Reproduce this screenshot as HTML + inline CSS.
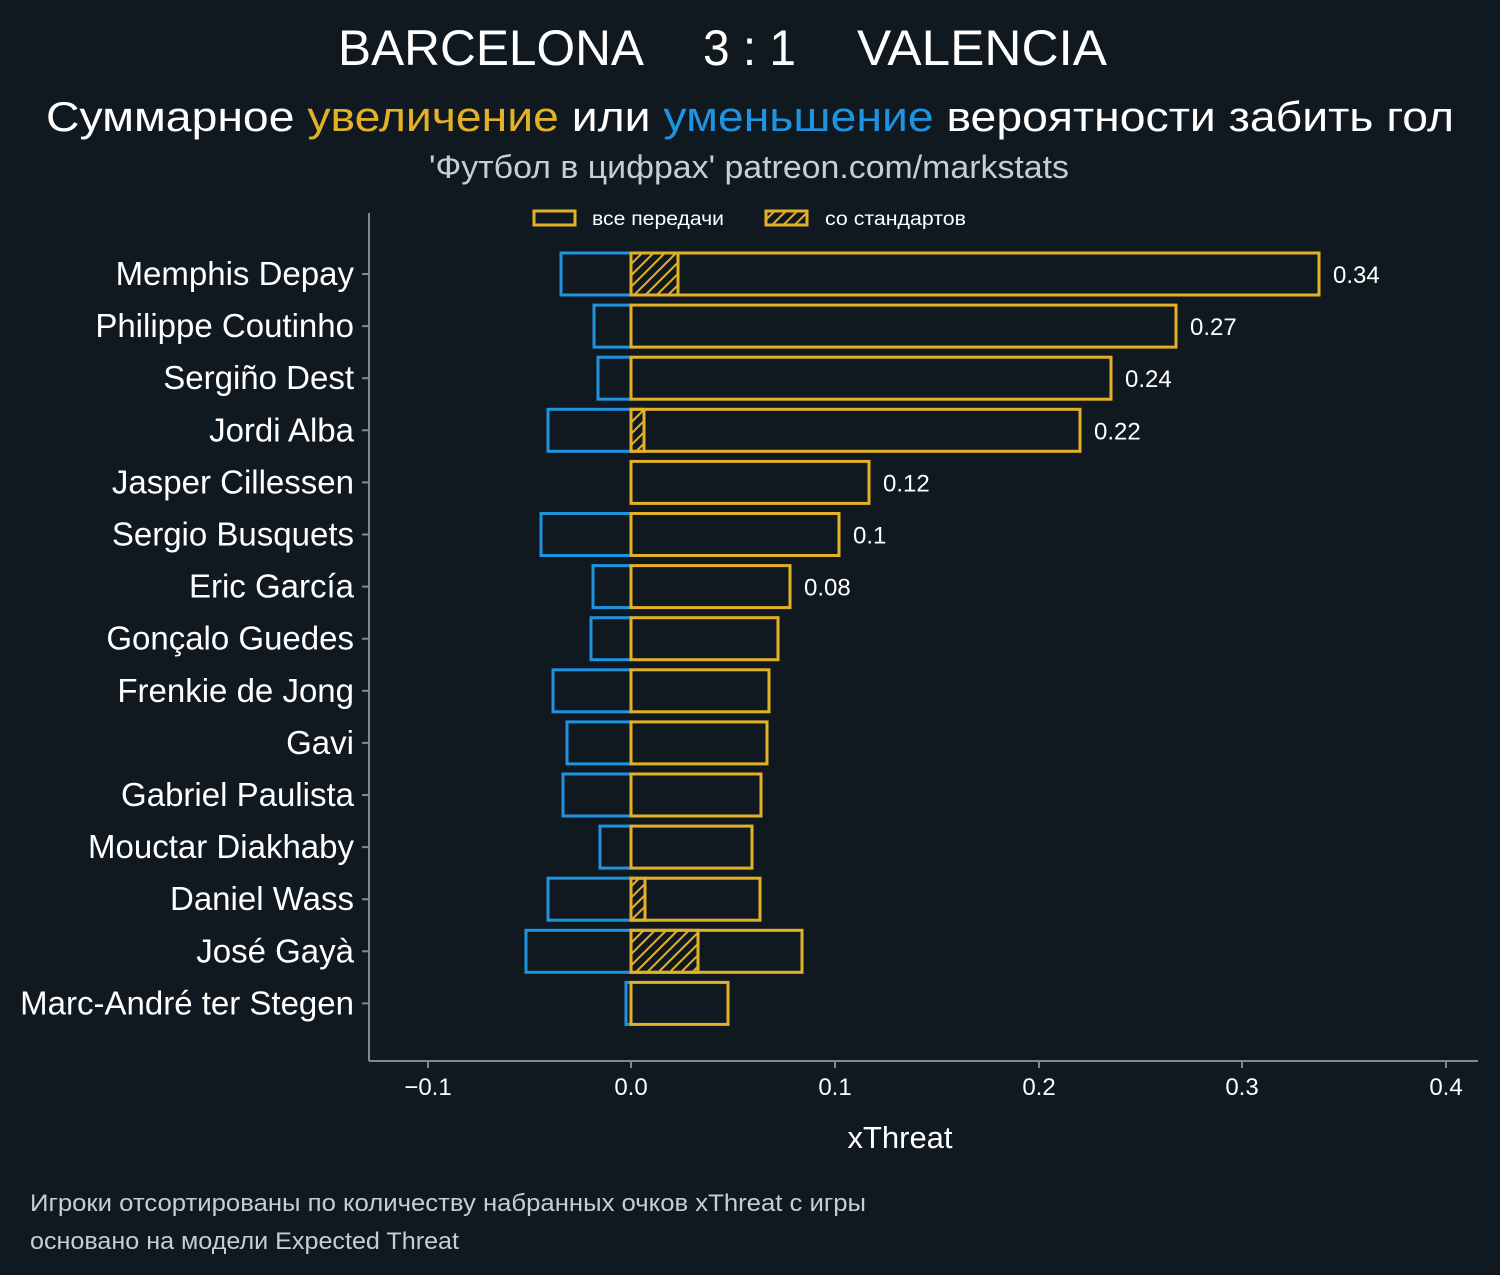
<!DOCTYPE html>
<html><head><meta charset="utf-8"><style>
html,body{margin:0;padding:0;background:#101920;}
svg{display:block}
text{font-family:"Liberation Sans","DejaVu Sans",sans-serif;fill:#fff}
</style></head><body>
<svg width="1500" height="1275" viewBox="0 0 1500 1275" xmlns="http://www.w3.org/2000/svg">
<defs>
<pattern id="h" patternUnits="userSpaceOnUse" width="8" height="8" patternTransform="rotate(45)">
<rect width="8" height="8" fill="#101920"/><rect x="0" y="0" width="2" height="8" fill="#e2b127"/>
</pattern>
</defs>
<rect width="1500" height="1275" fill="#101920"/>
<text x="338" y="65" font-size="50" textLength="306" lengthAdjust="spacingAndGlyphs">BARCELONA</text>
<text x="703" y="65" font-size="50" textLength="93" lengthAdjust="spacingAndGlyphs">3 : 1</text>
<text x="857" y="65" font-size="50" textLength="250" lengthAdjust="spacingAndGlyphs">VALENCIA</text>
<text x="750" y="131" font-size="42" text-anchor="middle" textLength="1408" lengthAdjust="spacingAndGlyphs">Суммарное <tspan style="fill:#e2b127">увеличение</tspan> или <tspan style="fill:#1f93e0">уменьшение</tspan> вероятности забить гол</text>
<text x="749" y="178" font-size="32" text-anchor="middle" style="fill:#c8cdd2" textLength="640" lengthAdjust="spacingAndGlyphs">'Футбол в цифрах' patreon.com/markstats</text>
<rect x="534" y="211" width="41" height="14" fill="none" stroke="#e2b127" stroke-width="3"/>
<text x="592" y="225" font-size="19" textLength="132" lengthAdjust="spacingAndGlyphs">все передачи</text>
<rect x="766" y="211" width="41" height="14" fill="url(#h)" stroke="#e2b127" stroke-width="3"/>
<text x="825" y="225" font-size="19" textLength="141" lengthAdjust="spacingAndGlyphs">со стандартов</text>
<line x1="369" y1="213" x2="369" y2="1061" stroke="#7d8a94" stroke-width="2"/>
<line x1="369" y1="1061" x2="1478" y2="1061" stroke="#7d8a94" stroke-width="2"/>
<g stroke="#7d8a94" stroke-width="2">
<line x1="428" y1="1061" x2="428" y2="1068"/><line x1="631" y1="1061" x2="631" y2="1068"/><line x1="835" y1="1061" x2="835" y2="1068"/><line x1="1039" y1="1061" x2="1039" y2="1068"/><line x1="1242" y1="1061" x2="1242" y2="1068"/><line x1="1446" y1="1061" x2="1446" y2="1068"/>
</g>
<g font-size="24" text-anchor="middle">
<text x="428" y="1095">−0.1</text><text x="631" y="1095">0.0</text><text x="835" y="1095">0.1</text><text x="1039" y="1095">0.2</text><text x="1242" y="1095">0.3</text><text x="1446" y="1095">0.4</text>
</g>
<text x="900" y="1148" font-size="31" text-anchor="middle">xThreat</text>
<text x="30" y="1211" font-size="24" style="fill:#c8cdd2" textLength="836" lengthAdjust="spacingAndGlyphs">Игроки отсортированы по количеству набранных очков xThreat с игры</text>
<text x="30" y="1249" font-size="24" style="fill:#c8cdd2" textLength="429" lengthAdjust="spacingAndGlyphs">основано на модели Expected Threat</text>
<g id="bars"></g>
</svg>
<script>
const rows=[
["Memphis Depay",1319,561,678,"0.34"],
["Philippe Coutinho",1176,594,0,"0.27"],
["Sergiño Dest",1111,598,0,"0.24"],
["Jordi Alba",1080,548,644,"0.22"],
["Jasper Cillessen",869,631,0,"0.12"],
["Sergio Busquets",839,541,0,"0.1"],
["Eric García",790,593,0,"0.08"],
["Gonçalo Guedes",778,591,0,""],
["Frenkie de Jong",769,553,0,""],
["Gavi",767,567,0,""],
["Gabriel Paulista",761,563,0,""],
["Mouctar Diakhaby",752,600,0,""],
["Daniel Wass",760,548,645,""],
["José Gayà",802,526,698,""],
["Marc-André ter Stegen",728,626,0,""]];
let s="";const Z=631;
rows.forEach((r,i)=>{const c=274+i*52.1,t=c-21;
s+=`<line x1="362" y1="${c}" x2="369" y2="${c}" stroke="#7d8a94" stroke-width="2"/>`;
s+=`<text x="354" y="${c+11}" font-size="33" text-anchor="end">${r[0]}</text>`;
if(r[2]<Z)s+=`<rect x="${r[2]}" y="${t}" width="${Z-r[2]}" height="42" fill="none" stroke="#1f93e0" stroke-width="3"/>`;
if(r[3])s+=`<rect x="${Z}" y="${t}" width="${r[3]-Z}" height="42" fill="url(#h)" stroke="#e2b127" stroke-width="3"/>`;
s+=`<rect x="${Z}" y="${t}" width="${r[1]-Z}" height="42" fill="none" stroke="#e2b127" stroke-width="3"/>`;
if(r[4])s+=`<text x="${r[1]+14}" y="${c+9}" font-size="24">${r[4]}</text>`;});
document.getElementById("bars").innerHTML=s;
</script>
</body></html>
